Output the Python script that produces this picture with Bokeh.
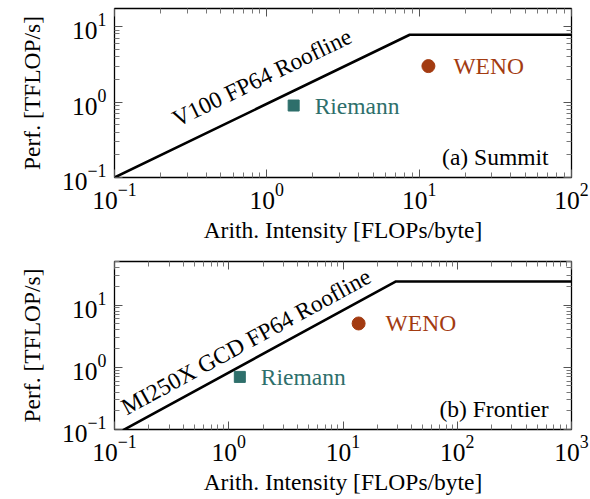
import math
from bokeh.plotting import figure
from bokeh.models import LogAxis, FixedTicker, Label, Range1d, CustomJSTickFormatter
from bokeh.layouts import column
from bokeh.embed import file_html
from bokeh.resources import INLINE

# ---------------- data ----------------
kernels = ["Riemann", "WENO"]
kernel_colors = ["#2e6f6b", "#a33b11"]
kernel_markers = ["square", "circle"]

# (a) Summit, V100
summit_roof_x = [0.1, 8.67, 100]
summit_roof_y = [0.1, 7.8, 7.8]
summit_ai = [1.5, 11.5]
summit_perf = [0.9, 3.0]
summit_x_range = [0.1, 100]
summit_y_range = [0.1, 17.4]
summit_x_ticks = [0.1, 1, 10, 100]
summit_y_ticks = [0.1, 1, 10]

# (b) Frontier, MI250X GCD
frontier_roof_x = [0.1, 29.1, 1000]
frontier_roof_y = [0.082, 23.9, 23.9]
frontier_ai = [1.25, 13.7]
frontier_perf = [0.70, 5.05]
frontier_x_range = [0.1, 1000]
frontier_y_range = [0.1, 50]
frontier_x_ticks = [0.1, 1, 10, 100, 1000]
frontier_y_ticks = [0.1, 1, 10]

FONT = "Liberation Serif"
FS = "23.5px"
TICK_FS = "25.5px"
FW = 457


def minor_ticks(major, lo, hi):
    out = []
    for t in major:
        for m in range(2, 10):
            v = t * m
            if lo <= v <= hi:
                out.append(v)
    first = major[0] / 10
    for m in range(2, 10):
        v = first * m
        if lo <= v <= hi:
            out.append(v)
    return out


def style_axis(ax, ticks, lo, hi, labels=True):
    ax.ticker = FixedTicker(ticks=ticks, minor_ticks=minor_ticks(ticks, lo, hi))
    ax.axis_line_color = None
    ax.major_tick_in = 8
    ax.major_tick_out = 0
    ax.minor_tick_in = 5
    ax.minor_tick_out = 0
    ax.major_tick_line_color = "#555555"
    ax.minor_tick_line_color = "#777777"
    ax.major_tick_line_width = 1
    ax.minor_tick_line_width = 1
    if labels:
        ax.major_label_text_font = FONT
        ax.major_label_text_font_size = TICK_FS
        ax.major_label_text_color = "black"
        ax.axis_label_text_font = FONT
        ax.axis_label_text_font_size = FS
        ax.axis_label_text_font_style = "normal"
        ax.axis_label_text_color = "black"
    else:
        ax.formatter = CustomJSTickFormatter(code="return ''")
        ax.major_label_text_font_size = "0px"
        ax.major_label_standoff = 0


def make_panel(xr, yr, xt, yt, roof_x, roof_y, ai, perf, roof_label, panel_label,
               fh, btop, bbottom, anchor_x, roof_gap, label_offsets):
    p = figure(x_axis_type="log", y_axis_type="log",
               x_range=Range1d(*xr), y_range=Range1d(*yr),
               frame_width=FW, frame_height=fh,
               min_border_left=114, min_border_right=19,
               min_border_top=btop, min_border_bottom=bbottom,
               output_backend="svg", toolbar_location=None)
    p.grid.visible = False
    p.outline_line_color = "black"
    p.outline_line_width = 1.3
    p.background_fill_color = "white"
    p.border_fill_color = "white"

    xa = p.xaxis[0]
    ya = p.yaxis[0]
    style_axis(xa, xt, *xr)
    style_axis(ya, yt, *yr)
    xa.axis_label = "Arith. Intensity [FLOPs/byte]"
    ya.axis_label = "Perf. [TFLOP/s]"
    xa.major_label_standoff = 6
    ya.major_label_standoff = 8
    xa.axis_label_standoff = 5
    ya.axis_label_standoff = 14

    top = LogAxis()
    right = LogAxis()
    style_axis(top, xt, *xr, labels=False)
    style_axis(right, yt, *yr, labels=False)
    p.add_layout(top, "above")
    p.add_layout(right, "right")

    p.line(roof_x, roof_y, line_color="black", line_width=2.6)

    for i, k in enumerate(kernels):
        p.scatter([ai[i]], [perf[i]], marker=kernel_markers[i],
                  size=(11 if kernel_markers[i] == "square" else 13),
                  fill_color=kernel_colors[i], line_color=kernel_colors[i])
        p.add_layout(Label(x=ai[i], y=perf[i], text=k, x_offset=label_offsets[i],
                           text_baseline="middle", text_align="left",
                           text_font=FONT, text_font_size=FS,
                           text_color=kernel_colors[i]))

    # roofline label along the sloped part
    dx = FW / math.log10(xr[1] / xr[0])
    dy = fh / math.log10(yr[1] / yr[0])
    lx = math.log10(roof_x[1] / roof_x[0])
    ly = math.log10(roof_y[1] / roof_y[0])
    ang = math.atan2(dy * ly, dx * lx)
    anchor_y = roof_y[0] * 10 ** (ly / lx * math.log10(anchor_x / roof_x[0]))
    p.add_layout(Label(x=anchor_x, y=anchor_y, text=roof_label, angle=ang,
                       x_offset=-roof_gap * math.sin(ang), y_offset=roof_gap * math.cos(ang),
                       text_align="center", text_baseline="bottom",
                       text_font=FONT, text_font_size=FS, text_color="black"))

    p.add_layout(Label(x=xr[1], y=yr[0], text=panel_label, x_offset=-23, y_offset=21,
                       text_align="right", text_baseline="alphabetic",
                       text_font=FONT, text_font_size=FS, text_color="black"))
    return p


p1 = make_panel(summit_x_range, summit_y_range, summit_x_ticks, summit_y_ticks,
                summit_roof_x, summit_roof_y, summit_ai, summit_perf,
                "V100 FP64 Roofline", "(a) Summit",
                169, 8, 73, 1.1, 13, [21, 25])
p2 = make_panel(frontier_x_range, frontier_y_range, frontier_x_ticks, frontier_y_ticks,
                frontier_roof_x, frontier_roof_y, frontier_ai, frontier_perf,
                "MI250X GCD FP64 Roofline", "(b) Frontier",
                168, 11, 70, 1.7, 6, [21, 27])

layout = column(p1, p2, spacing=0)
open("out.html", "w").write(file_html(layout, INLINE))
